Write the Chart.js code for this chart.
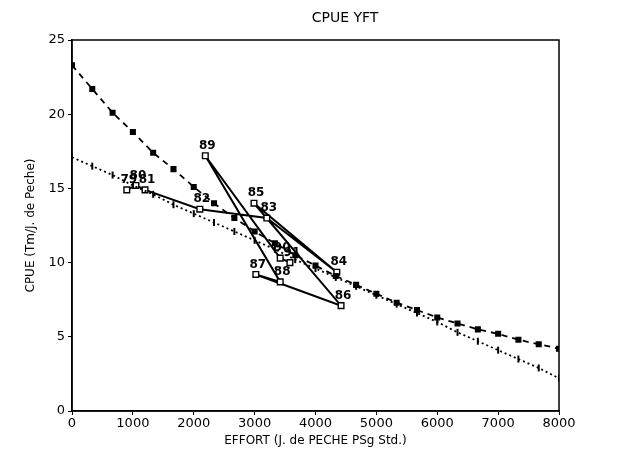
<!DOCTYPE html>
<html>
<head>
<meta charset="utf-8">
<script src="https://cdn.jsdelivr.net/npm/chart.js@4.4.0/dist/chart.umd.min.js"></script>
<style>
  html, body { margin: 0; padding: 0; background: #fff; }
  #wrap { width: 641px; height: 456px; }
</style>
</head>
<body>
<div id="wrap"><canvas id="cpue" width="641" height="456"></canvas></div>
<script>
//--------------------------------------------Data
const curveEffort = [0, 333, 667, 1000, 1333, 1667, 2000, 2333, 2667, 3000, 3333, 3667, 4000,
    4333, 4667, 5000, 5333, 5667, 6000, 6333, 6667, 7000, 7333, 7667, 8000];
const foxCpue = [23.3, 21.7, 20.1, 18.8, 17.4, 16.3, 15.1, 14.0, 13.0, 12.1, 11.3, 10.5, 9.8,
    9.1, 8.5, 7.9, 7.3, 6.8, 6.3, 5.9, 5.5, 5.2, 4.8, 4.5, 4.2];
const schaeferCpue = [17.1, 16.5, 15.9, 15.2, 14.6, 13.9, 13.3, 12.7, 12.1, 11.5, 10.9, 10.2, 9.6,
    9.0, 8.4, 7.8, 7.2, 6.6, 6.0, 5.3, 4.7, 4.1, 3.5, 2.9, 2.2];

const years = ['79', '80', '81', '82', '83', '84', '85', '86', '87', '88', '89', '90', '91'];
const obsEffort = [900, 1050, 1200, 2100, 3200, 4350, 2990, 4420, 3020, 3420, 2190, 3420, 3580];
const obsCpue = [14.9, 15.2, 14.9, 13.6, 13.0, 9.35, 14.0, 7.1, 9.2, 8.7, 17.2, 10.3, 10.0];

const xTicks = [0, 1000, 2000, 3000, 4000, 5000, 6000, 7000, 8000];
const yTicks = [0, 5, 10, 15, 20, 25];

//--------------------------------------------Helpers
const toXY = (xs, ys) => xs.map((x, i) => ({ x: x, y: ys[i] }));
const FONT = 'DejaVu Sans';

const frame = {
    id: 'frame',
    afterDraw(chart) {
        const { ctx, chartArea: a } = chart;
        ctx.save();
        ctx.strokeStyle = '#000';
        ctx.lineWidth = 1.5;
        ctx.strokeRect(a.left, a.top, a.right - a.left, a.bottom - a.top);
        // title
        ctx.fillStyle = '#000';
        ctx.font = '14px ' + FONT;
        ctx.textAlign = 'center';
        ctx.textBaseline = 'middle';
        ctx.fillText('CPUE YFT', 345, 18);
        ctx.restore();
    }
};

const yearLabels = {
    id: 'yearLabels',
    afterDatasetsDraw(chart) {
        const { ctx } = chart;
        const meta = chart.getDatasetMeta(2);
        ctx.save();
        ctx.fillStyle = '#000';
        ctx.font = 'bold 12px ' + FONT;
        ctx.textAlign = 'center';
        ctx.textBaseline = 'bottom';
        meta.data.forEach((pt, i) => {
            ctx.fillText(years[i], pt.x + 2, pt.y - 4);
        });
        ctx.restore();
    }
};

//--------------------------------------------Chart
const config = {
    type: 'scatter',
    data: {
        datasets: [{
            label: 'Fox',
            data: toXY(curveEffort, foxCpue),
            showLine: true,
            borderColor: '#000',
            borderWidth: 1.8,
            borderDash: [6, 5],
            pointStyle: 'rect',
            pointRadius: 3,
            backgroundColor: '#000',
            pointBorderColor: '#000',
            tension: 0,
        }, {
            label: 'Schaefer',
            data: toXY(curveEffort, schaeferCpue),
            showLine: true,
            borderColor: '#000',
            borderWidth: 1.8,
            borderDash: [2, 3],
            pointStyle: 'line',
            rotation: 90,
            pointRadius: 3.5,
            pointBorderWidth: 2,
            pointBorderColor: '#000',
            tension: 0,
        }, {
            label: 'Observed',
            data: toXY(obsEffort, obsCpue),
            showLine: true,
            borderColor: '#000',
            borderWidth: 2,
            pointStyle: 'rect',
            pointRadius: 4,
            pointBorderWidth: 1.4,
            pointBackgroundColor: '#fff',
            pointBorderColor: '#000',
            tension: 0,
        }]
    },
    options: {
        responsive: false,
        animation: false,
        layout: { padding: { left: 24, right: 82, top: 40, bottom: 0 } },
        plugins: {
            legend: { display: false },
            title: { display: false },
            tooltip: { enabled: false }
        },
        scales: {
            x: {
                type: 'linear',
                min: 0,
                max: 8000,
                afterBuildTicks: (s) => { s.ticks = xTicks.map(v => ({ value: v })); },
                afterFit: (s) => { s.height = 45; s.paddingLeft = 0; s.paddingRight = 0; },
                grid: { drawOnChartArea: false, drawTicks: true, tickLength: 4, color: '#000' },
                border: { color: '#000', width: 1.5 },
                ticks: {
                    color: '#000', padding: 1,
                    font: { family: FONT, size: 13 },
                    callback: (v) => String(v)
                },
                title: {
                    display: true,
                    text: 'EFFORT (J. de PECHE PSg Std.)',
                    color: '#000',
                    padding: { top: 0, bottom: 8 },
                    font: { family: FONT, size: 12 }
                }
            },
            y: {
                type: 'linear',
                min: 0,
                max: 25,
                afterBuildTicks: (s) => { s.ticks = yTicks.map(v => ({ value: v })); },
                afterFit: (s) => { s.width = 48; s.paddingTop = 0; s.paddingBottom = 0; },
                grid: { drawOnChartArea: false, drawTicks: true, tickLength: 4, color: '#000' },
                border: { color: '#000', width: 1.5 },
                ticks: {
                    color: '#000', padding: 3,
                    font: { family: FONT, size: 13 },
                    callback: (v) => String(v)
                },
                title: {
                    display: true,
                    text: 'CPUE (Tm/J. de Peche)',
                    color: '#000',
                    padding: { top: 0, bottom: 0 },
                    font: { family: FONT, size: 12 }
                }
            }
        }
    },
    plugins: [frame, yearLabels]
};

new Chart(document.getElementById('cpue'), config);
</script>
</body>
</html>
